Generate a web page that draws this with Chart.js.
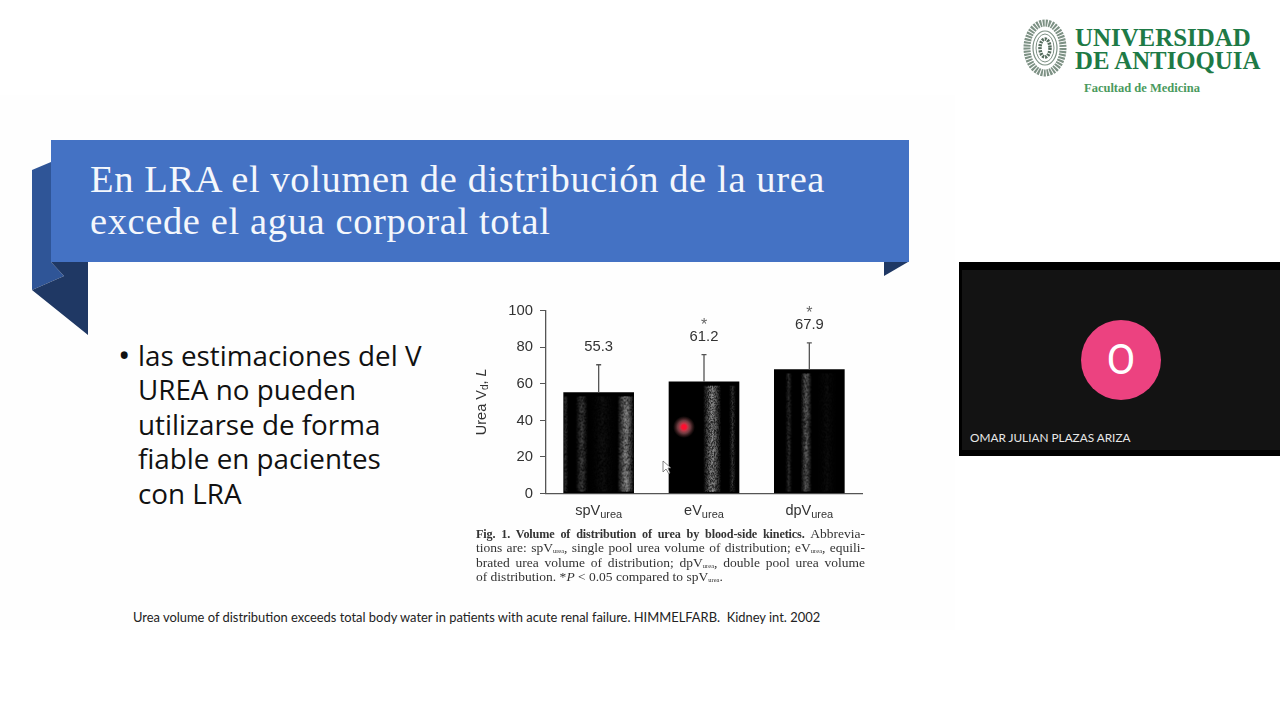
<!DOCTYPE html>
<html>
<head>
<meta charset="utf-8">
<script src="https://cdn.jsdelivr.net/npm/chart.js@4"></script>
<style>
  html, body { margin: 0; padding: 0; background: #fff; width: 1280px; height: 720px; overflow: hidden; }
  .abs { position: absolute; white-space: nowrap; }
  #panel { left: 0; top: 95px; width: 955px; height: 535px; background: #fefefe; }
  #banner { left: 51px; top: 140px; width: 858px; height: 122px; background: #4472c4; }
  #title { left: 90px; top: 159px; font: 38.5px/41.5px "Liberation Serif", serif; letter-spacing: 0.62px; color: #f4f7fc; }
  #dot { left: 118px; top: 338px; font: 33px/34.4px "Open Sans", sans-serif; color: #111; }
  #bullet { left: 138px; top: 338px; font: 27.8px/34.4px "Open Sans", sans-serif; color: #111; }
  #cite { left: 133px; top: 609px; font: 12.92px/16px Lato, sans-serif; color: #222; }
  #caption { left: 476px; top: 527px; width: 389px; font: 13.5px/14.4px "Liberation Serif", serif; color: #333; }
  #caption div { text-align: justify; text-align-last: justify; height: 14.4px; white-space: normal; }
  #caption div.first { white-space: nowrap; }
  #caption div.first b { font-size: 12.2px; letter-spacing: -0.15px; }
  #caption div.last { text-align-last: left; }
  #caption sub { font-size: 6.5px; line-height: 0; vertical-align: baseline; position: relative; top: 1px; }
  #chartBox { left: 470px; top: 295px; width: 410px; height: 235px; }
  #video { left: 959px; top: 262px; width: 321px; height: 194px; background: #000; }
  #videoIn { left: 962px; top: 270px; width: 318px; height: 180px; background: #131313; }
  #avatar { left: 1081px; top: 320px; width: 80px; height: 80px; border-radius: 50%; background: #ec4280; color: #fff; font: 42px/80px Roboto, sans-serif; text-align: center; }
  #name { left: 970px; top: 430px; font: 11.8px/15px Lato, sans-serif; color: #e8e8e8; }
  .logo { font-family: "Liberation Serif", serif; font-weight: bold; color: #1e7a46; }
</style>
</head>
<body>
<div class="abs" id="panel"></div>
<svg class="abs" style="left:0;top:0" width="1280" height="720">
  <polygon points="32,170 51,162 51,262 64,276 32,290" fill="#2f5597"/>
  <polygon points="51,262 88,262 88,335 32,290 64,276" fill="#1f3864"/>
  <polygon points="884,262 908,262 884,276" fill="#1f3864"/>
  <g fill="none" stroke="#7d9184">
    <ellipse cx="1045" cy="48" rx="18" ry="25" stroke-width="7" stroke-dasharray="2 1"/>
    <ellipse cx="1045" cy="48" rx="12" ry="17" stroke-width="1.2"/>
    <ellipse cx="1045" cy="48" rx="9" ry="14" stroke-width="1"/>
    <ellipse cx="1045" cy="48" rx="5" ry="9" stroke-width="3.5" stroke-dasharray="2 1" stroke="#566d5e"/>
  </g>
</svg>
<div class="abs" id="banner"></div>
<div class="abs" id="title">En LRA el volumen de distribución de la urea<br>excede el agua corporal total</div>
<div class="abs" id="dot">•</div>
<div class="abs" id="bullet">las estimaciones del V<br>UREA no pueden<br>utilizarse de forma<br>fiable en pacientes<br>con LRA</div>
<div class="abs" id="chartBox"><canvas id="chart" width="410" height="235"></canvas></div>
<div class="abs" id="caption">
  <div class="first"><b>Fig. 1. Volume of distribution of urea by blood-side kinetics.</b> Abbrevia-</div>
  <div>tions are: spV<sub>urea</sub>, single pool urea volume of distribution; eV<sub>urea</sub>, equili-</div>
  <div>brated urea volume of distribution; dpV<sub>urea</sub>, double pool urea volume</div>
  <div class="last">of distribution. *<i>P</i> &lt; 0.05 compared to spV<sub>urea</sub>.</div>
</div>
<div class="abs" id="cite">Urea volume of distribution exceeds total body water in patients with acute renal failure. HIMMELFARB.&nbsp; Kidney int. 2002</div>
<div class="abs logo" style="left:1075px;top:27px;font-size:24.9px;line-height:22px">UNIVERSIDAD</div>
<div class="abs logo" style="left:1075px;top:50px;font-size:24.8px;line-height:22px">DE ANTIOQUIA</div>
<div class="abs logo" style="left:1084px;top:81px;font-size:12.5px;line-height:14px;color:#4a9a5e">Facultad de Medicina</div>
<div class="abs" id="video"></div>
<div class="abs" id="videoIn"></div>
<div class="abs" id="avatar">O</div>
<div class="abs" id="name">OMAR JULIAN PLAZAS ARIZA</div>
<script>
const categories = ['spV', 'eV', 'dpV'];
const categorySub = 'urea';
const means = [55.3, 61.2, 67.9];
const errorTops = [70.5, 76, 82.5];
const significant = [false, true, true];
const yTicks = [0, 20, 40, 60, 80, 100];
// lighter vertical bands in the scanned bars: [centre, half width, strength], as a share of bar width
const bands = [
  [[0.02, 0.04, 0.25], [0.25, 0.09, 0.35], [0.55, 0.2, 0.1], [0.88, 0.12, 0.85]],
  [[0.61, 0.13, 0.7], [0.9, 0.05, 0.25]],
  [[0.2, 0.05, 0.25], [0.45, 0.08, 0.55], [0.75, 0.15, 0.08]]
];

const FONT = '"Liberation Sans", Arial, sans-serif';
const INK = '#333';

function speckle(i, j) {
  const s = Math.sin(i * 127.1 + j * 311.7) * 43758.5453;
  return s - Math.floor(s);
}

const barTexture = {
  id: 'barTexture',
  afterDatasetsDraw(chart) {
    const ctx = chart.ctx;
    chart.getDatasetMeta(0).data.forEach((bar, n) => {
      const left = bar.x - bar.width / 2;
      ctx.save();
      for (let i = 0; i < bar.width; i++) {
        const t = i / bar.width;
        let level = 0;
        bands[n].forEach(b => { level += b[2] * Math.max(0, 1 - Math.abs(t - b[0]) / b[1]); });
        if (level <= 0) continue;
        for (let y = bar.y + 4; y < bar.base - 2; y++) {
          const v = speckle(i + n * 100, y);
          ctx.fillStyle = 'rgba(225,225,225,' + Math.min(1, level * (0.2 + v)) + ')';
          ctx.fillRect(left + i, y, 1, 1);
        }
      }
      ctx.restore();
    });
  }
};

const annotations = {
  id: 'annotations',
  afterDatasetsDraw(chart) {
    const ctx = chart.ctx, x = chart.scales.x, y = chart.scales.y;
    ctx.save();
    ctx.textAlign = 'center';
    ctx.textBaseline = 'middle';
    categories.forEach((name, i) => {
      const cx = x.getPixelForValue(i);
      const top = y.getPixelForValue(errorTops[i]);
      const bar = y.getPixelForValue(means[i]);
      // error bar
      ctx.strokeStyle = '#555';
      ctx.lineWidth = 1.3;
      ctx.beginPath();
      ctx.moveTo(cx, bar);
      ctx.lineTo(cx, top);
      ctx.moveTo(cx - 2.5, top);
      ctx.lineTo(cx + 2.5, top);
      ctx.stroke();
      // value and star
      ctx.fillStyle = INK;
      ctx.font = '14.8px ' + FONT;
      ctx.fillText(means[i].toFixed(1), cx, top - 18);
      if (significant[i]) {
        ctx.fillStyle = '#666';
        ctx.font = '16px ' + FONT;
        ctx.fillText('*', cx, top - 29);
      }
      // category label with subscript
      ctx.fillStyle = INK;
      ctx.font = '14.5px ' + FONT;
      const w1 = ctx.measureText(name).width;
      ctx.font = '11px ' + FONT;
      const w2 = ctx.measureText(categorySub).width;
      const sx = cx - (w1 + w2) / 2;
      ctx.textAlign = 'left';
      ctx.font = '14.5px ' + FONT;
      ctx.fillText(name, sx, y.bottom + 17);
      ctx.font = '11px ' + FONT;
      ctx.fillText(categorySub, sx + w1, y.bottom + 21);
      ctx.textAlign = 'center';
    });
    // y axis title, rotated, with subscript and italic unit
    ctx.translate(12, (y.top + y.bottom) / 2);
    ctx.rotate(-Math.PI / 2);
    ctx.textAlign = 'left';
    ctx.font = '14.5px ' + FONT;
    ctx.fillText('Urea V', -33, 0);
    let off = -33 + ctx.measureText('Urea V').width;
    ctx.font = '10px ' + FONT;
    ctx.fillText('d', off, 3);
    off += ctx.measureText('d').width;
    ctx.font = '14.5px ' + FONT;
    ctx.fillText(', ', off, 0);
    off += ctx.measureText(', ').width;
    ctx.font = 'italic 14.5px ' + FONT;
    ctx.fillText('L', off, 0);
    ctx.restore();
  }
};

new Chart(document.getElementById('chart'), {
  type: 'bar',
  data: {
    labels: categories,
    datasets: [{ data: means, backgroundColor: '#000', barThickness: 70 }]
  },
  options: {
    responsive: false,
    animation: false,
    layout: { padding: { top: 15, right: 18, left: 0, bottom: 0 } },
    plugins: { legend: { display: false }, tooltip: { enabled: false } },
    scales: {
      x: {
        afterFit: s => { s.height = 36.5; },
        ticks: { display: false },
        grid: { display: false },
        border: { color: '#555', width: 1.3 }
      },
      y: {
        min: 0,
        max: 100,
        afterFit: s => { s.width = 76; },
        afterBuildTicks: s => { s.ticks = yTicks.map(v => ({ value: v })); },
        ticks: { color: INK, font: { family: FONT, size: 14.8 }, padding: 7 },
        grid: { drawOnChartArea: false, tickLength: 6, color: '#555' },
        border: { color: '#555', width: 1.3 }
      }
    }
  },
  plugins: [barTexture, annotations]
});
</script>
<svg class="abs" style="left:0;top:0;pointer-events:none" width="1280" height="720">
  <defs><radialGradient id="laser"><stop offset="0.2" stop-color="#ff1030"/><stop offset="0.35" stop-color="#d04050" stop-opacity="0.9"/><stop offset="0.6" stop-color="#b06068" stop-opacity="0.6"/><stop offset="1" stop-color="#804040" stop-opacity="0"/></radialGradient></defs>
  <circle cx="684" cy="427" r="11" fill="url(#laser)"/>
  <polygon points="663,461 663,472 666,469 669,474 670,473 668,468 671,468" fill="#fff" stroke="#555" stroke-width="0.7"/>
</svg>
</body>
</html>
